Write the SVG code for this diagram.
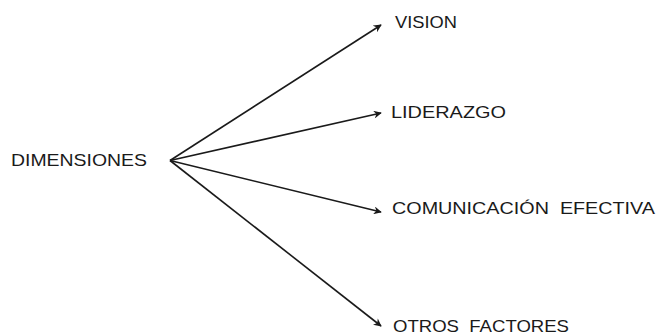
<svg xmlns="http://www.w3.org/2000/svg" width="663" height="335" viewBox="0 0 663 335">
<style>
.t{font-family:"Liberation Sans",Arial,sans-serif;font-size:17px;fill:#1a1a1a}
.c{stroke:#1a1a1a;stroke-width:1.6;fill:none;marker-end:url(#ah)}
</style>
<defs>
<marker id="ah" viewBox="0 0 10 10" refX="9" refY="5" markerWidth="9" markerHeight="8" markerUnits="userSpaceOnUse" orient="auto">
<path d="M0,0 L10,5 L0,10 L3,5 z" fill="#1a1a1a"/>
</marker>
</defs>
<rect width="663" height="335" fill="#fff"/>
<g id="connectors">
<line class="c" x1="170" y1="160.5" x2="381" y2="25"/>
<line class="c" x1="170" y1="160.5" x2="381" y2="113"/>
<line class="c" x1="170" y1="160.5" x2="381" y2="212"/>
<line class="c" x1="170" y1="160.5" x2="381" y2="326"/>
</g>
<g id="dimensiones"><text class="t" x="11" y="166" textLength="136" lengthAdjust="spacingAndGlyphs">DIMENSIONES</text></g>
<g id="vision"><text class="t" x="395" y="28" textLength="62" lengthAdjust="spacingAndGlyphs">VISION</text></g>
<g id="liderazgo"><text class="t" x="391" y="118" textLength="115" lengthAdjust="spacingAndGlyphs">LIDERAZGO</text></g>
<g id="comunicacion"><text class="t" x="392" y="214" textLength="263" lengthAdjust="spacingAndGlyphs" xml:space="preserve">COMUNICACIÓN  EFECTIVA</text></g>
<g id="otros"><text class="t" x="393" y="332" textLength="176" lengthAdjust="spacingAndGlyphs" xml:space="preserve">OTROS  FACTORES</text></g>
</svg>
